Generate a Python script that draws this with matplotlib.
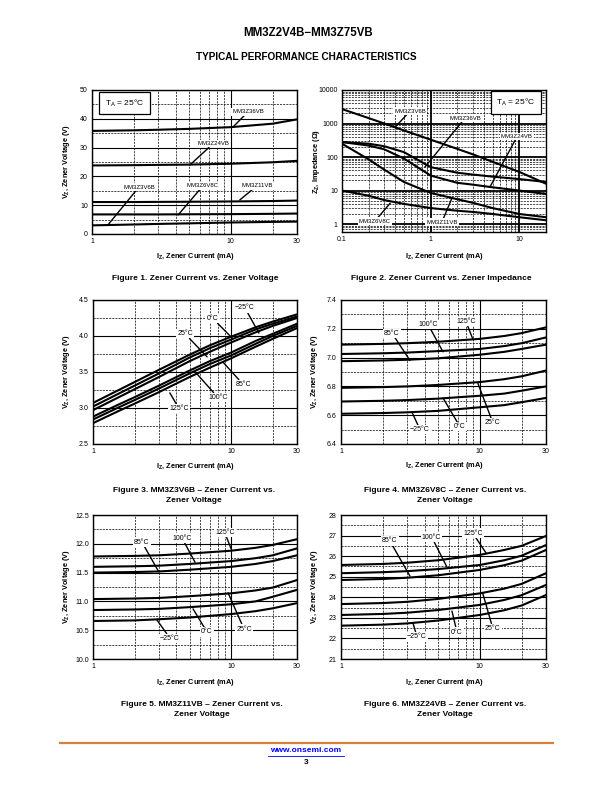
import matplotlib
matplotlib.use('Agg')
import matplotlib.pyplot as plt
from matplotlib.lines import Line2D
from matplotlib.ticker import NullFormatter

plt.rcParams['font.family'] = ['Liberation Sans', 'DejaVu Sans']
plt.rcParams['mathtext.fontset'] = 'custom'
plt.rcParams['mathtext.rm'] = 'Liberation Sans'
plt.rcParams['mathtext.bf'] = 'Liberation Sans:bold'
plt.rcParams['mathtext.it'] = 'Liberation Sans:italic'

# Figura 1: corriente vs tension zener (TA = 25 C)
i_fig1 = [1, 2, 3, 5, 10, 20, 30]
vz_36vb = [35.8, 36.0, 36.2, 36.5, 37.1, 38.3, 39.8]
vz_24vb = [23.8, 23.9, 24.0, 24.1, 24.4, 24.9, 25.4]
vz_11vb = [11.1, 11.1, 11.15, 11.2, 11.3, 11.45, 11.6]
vz_6v8c = [6.8, 6.8, 6.8, 6.85, 6.9, 7.0, 7.1]
vz_3v6b = [3.0, 3.3, 3.5, 3.7, 4.0, 4.2, 4.3]

# Figura 2: impedancia zener
i_fig2 = [0.1, 0.2, 0.3, 0.5, 1, 2, 3, 5, 10, 20]
zz_3v6b = [2700, 1450, 1000, 620, 330, 175, 120, 72, 36, 16]
zz_36vb = [280, 250, 210, 140, 50, 34, 30, 26, 22, 18]
zz_24vb = [280, 220, 170, 90, 28, 17, 15, 12.5, 10, 7.9]
zz_11vb = [250, 85, 42, 18, 8.5, 5.5, 4.3, 3.0, 2.0, 1.6]
zz_6v8c = [10, 7, 5.2, 4.0, 3.0, 2.5, 2.3, 2.0, 1.6, 1.3]

# Figuras 3 a 6: curvas por temperatura
temperaturas = ['-25', '0', '25', '85', '100', '125']
i_fig3 = [1, 1.5, 2, 3, 5, 7, 10, 15, 20, 30]
vz_fig3 = {
    '-25': [3.07, 3.24, 3.36, 3.53, 3.74, 3.87, 3.99, 4.12, 4.20, 4.30],
    '0': [3.02, 3.19, 3.31, 3.48, 3.70, 3.83, 3.95, 4.09, 4.17, 4.27],
    '25': [2.97, 3.14, 3.26, 3.43, 3.65, 3.78, 3.91, 4.05, 4.14, 4.25],
    '85': [2.88, 3.04, 3.15, 3.31, 3.52, 3.65, 3.77, 3.93, 4.03, 4.17],
    '100': [2.84, 3.00, 3.11, 3.27, 3.48, 3.61, 3.73, 3.89, 4.00, 4.14],
    '125': [2.79, 2.95, 3.06, 3.22, 3.43, 3.56, 3.69, 3.85, 3.96, 4.11],
}

i_temp = [1, 2, 3, 5, 10, 15, 20, 30]
vz_fig4 = {
    '-25': [6.61, 6.615, 6.62, 6.63, 6.655, 6.67, 6.69, 6.72],
    '0': [6.695, 6.70, 6.705, 6.715, 6.735, 6.75, 6.77, 6.80],
    '25': [6.79, 6.795, 6.80, 6.81, 6.83, 6.85, 6.87, 6.91],
    '85': [6.975, 6.98, 6.985, 6.995, 7.02, 7.04, 7.06, 7.09],
    '100': [7.025, 7.03, 7.035, 7.045, 7.06, 7.08, 7.10, 7.14],
    '125': [7.09, 7.095, 7.10, 7.11, 7.13, 7.15, 7.17, 7.21],
}
vz_fig5 = {
    '-25': [10.66, 10.67, 10.69, 10.72, 10.78, 10.83, 10.88, 10.97],
    '0': [10.85, 10.86, 10.87, 10.90, 10.95, 11.00, 11.08, 11.20],
    '25': [11.04, 11.05, 11.06, 11.09, 11.14, 11.19, 11.24, 11.37],
    '85': [11.50, 11.51, 11.52, 11.55, 11.60, 11.65, 11.70, 11.80],
    '100': [11.60, 11.61, 11.62, 11.65, 11.70, 11.75, 11.80, 11.92],
    '125': [11.78, 11.79, 11.80, 11.83, 11.88, 11.93, 11.98, 12.08],
}
vz_fig6 = {
    '-25': [22.62, 22.67, 22.73, 22.87, 23.14, 23.37, 23.60, 24.11],
    '0': [23.14, 23.19, 23.25, 23.38, 23.63, 23.87, 24.10, 24.60],
    '25': [23.67, 23.72, 23.78, 23.92, 24.19, 24.42, 24.65, 25.17],
    '85': [24.84, 24.89, 24.95, 25.07, 25.33, 25.56, 25.78, 26.30],
    '100': [25.17, 25.22, 25.27, 25.37, 25.57, 25.80, 26.02, 26.54],
    '125': [25.57, 25.62, 25.68, 25.80, 26.06, 26.30, 26.50, 26.98],
}

W, H = 612, 792
fig = plt.figure(figsize=(W / 100, H / 100), dpi=100)


def caja(x0, y0, x1, y1):
    return [x0 / W, 1 - y1 / H, (x1 - x0) / W, (y1 - y0) / H]


def texto(x, y, s, **kw):
    fig.text(x / W, 1 - y / H, s, ha='center', va='center', **kw)


def preparar(ax, ylim, yticks, ylabels, ymenor):
    ax.set_xscale('log')
    ax.set_xlim(1, 30)
    ax.set_xticks([1, 10, 30])
    ax.set_xticklabels(['1', '10', '30'])
    ax.set_xticks([2, 3, 4, 5, 6, 7, 8, 9, 20], minor=True)
    ax.xaxis.set_minor_formatter(NullFormatter())
    ax.set_ylim(*ylim)
    ax.set_yticks(yticks)
    ax.set_yticklabels(ylabels)
    ax.set_yticks(ymenor, minor=True)
    estilo(ax)


def estilo(ax):
    ax.grid(which='major', color='black', lw=0.8)
    ax.grid(which='minor', color='black', lw=0.5, ls=(0, (3, 1.5)))
    ax.set_axisbelow(True)
    ax.tick_params(which='both', length=0, labelsize=5, pad=3)
    for s in ax.spines.values():
        s.set_linewidth(1.0)


def etiqueta(ax, s, xy, xytext, size=5):
    ax.annotate(s, xy=xy, xytext=xytext, fontsize=size, ha='center', va='center',
                zorder=10, annotation_clip=False,
                bbox=dict(fc='white', ec='none', pad=0.8),
                arrowprops=dict(arrowstyle='-', lw=1.0, color='black',
                                shrinkA=0, shrinkB=0))


def ta_box(ax, x, y):
    ax.text(x, y, r'T$_\mathrm{A}$ = 25°C', transform=ax.transAxes, fontsize=6,
            ha='center', va='center', zorder=10,
            bbox=dict(fc='white', ec='black', lw=0.9, boxstyle='square,pad=0.7'))


curva = dict(color='black', lw=1.5, zorder=5)

# ---- Figura 1
ax1 = fig.add_axes(caja(92, 90, 297, 234))
preparar(ax1, (0, 50), [0, 10, 20, 30, 40, 50], ['0', '10', '20', '30', '40', '50'],
         [5, 15, 25, 35, 45])
for v in [vz_36vb, vz_24vb, vz_11vb, vz_6v8c, vz_3v6b]:
    ax1.plot(i_fig1, v, **curva)
etiqueta(ax1, 'MM3Z36VB', (10.4, 37.2), (13.3, 42.4), 4.3)
etiqueta(ax1, 'MM3Z24VB', (5.08, 24.0), (7.44, 31.3), 4.3)
etiqueta(ax1, 'MM3Z3V6B', (1.30, 3.1), (2.18, 16.3), 4.3)
etiqueta(ax1, 'MM3Z6V8C', (4.17, 6.6), (6.3, 16.7), 4.3)
etiqueta(ax1, 'MM3Z11VB', (11.6, 11.8), (15.4, 16.7), 4.3)
ta_box(ax1, 0.158, 0.91)

# ---- Figura 2
ax2 = fig.add_axes(caja(342, 90, 546, 232))
ax2.set_xscale('log')
ax2.set_yscale('log')
ax2.set_xlim(0.1, 20)
ax2.set_ylim(0.58, 10000)
ax2.set_xticks([0.1, 1, 10])
ax2.set_xticklabels(['0.1', '1', '10'])
ax2.set_xticks([k * d for d in (0.1, 1, 10) for k in range(2, 10) if k * d < 20],
               minor=True)
ax2.xaxis.set_minor_formatter(NullFormatter())
ax2.set_yticks([1, 10, 100, 1000, 10000])
ax2.set_yticklabels(['1', '10', '100', '1000', '10000'])
ax2.set_yticks([k * d for d in (0.1, 1, 10, 100, 1000) for k in range(2, 10)
                if 0.58 < k * d < 10000], minor=True)
ax2.yaxis.set_minor_formatter(NullFormatter())
estilo(ax2)
ax2.grid(which='major', color='black', lw=1.3)
for z in [zz_3v6b, zz_36vb, zz_24vb, zz_11vb, zz_6v8c]:
    ax2.plot(i_fig2, z, **curva)
etiqueta(ax2, 'MM3Z3V6B', (0.40, 790), (0.585, 2350), 4.3)
etiqueta(ax2, 'MM3Z36VB', (0.86, 50), (2.44, 1450), 4.3)
etiqueta(ax2, 'MM3Z24VB', (4.66, 12.7), (9.4, 400), 4.3)
etiqueta(ax2, 'MM3Z6V8C', (0.35, 4.2), (0.235, 1.23), 4.3)
etiqueta(ax2, 'MM3Z11VB', (1.74, 6.0), (1.34, 1.15), 4.3)
ta_box(ax2, 0.853, 0.912)

# ---- Figuras 3 a 6
ax3 = fig.add_axes(caja(93, 300, 297, 444))
preparar(ax3, (2.5, 4.5), [2.5, 3.0, 3.5, 4.0, 4.5],
         ['2.5', '3.0', '3.5', '4.0', '4.5'], [2.75, 3.25, 3.75, 4.25])
for t in temperaturas:
    ax3.plot(i_fig3, vz_fig3[t], **curva)
etiqueta(ax3, '\u221225°C', (15.9, 4.04), (12.6, 4.39))
etiqueta(ax3, '0°C', (10.2, 3.97), (7.4, 4.24))
etiqueta(ax3, '25°C', (6.7, 3.71), (4.64, 4.03))
etiqueta(ax3, '85°C', (8.7, 3.64), (12.2, 3.33))
etiqueta(ax3, '100°C', (5.5, 3.50), (8.0, 3.15))
etiqueta(ax3, '125°C', (3.6, 3.21), (4.2, 2.99))

ax4 = fig.add_axes(caja(341, 300, 546, 444))
preparar(ax4, (6.4, 7.4), [6.4, 6.6, 6.8, 7.0, 7.2, 7.4],
         ['6.4', '6.6', '6.8', '7.0', '7.2', '7.4'], [6.5, 6.7, 6.9, 7.1, 7.3])
for t in temperaturas:
    ax4.plot(i_temp, vz_fig4[t], **curva)
etiqueta(ax4, '85°C', (3.14, 6.98), (2.33, 7.17))
etiqueta(ax4, '100°C', (5.43, 7.04), (4.24, 7.23))
etiqueta(ax4, '125°C', (8.9, 7.13), (7.95, 7.25))
etiqueta(ax4, '\u221225°C', (3.25, 6.62), (3.71, 6.50))
etiqueta(ax4, '0°C', (5.43, 6.72), (7.2, 6.52))
etiqueta(ax4, '25°C', (9.7, 6.82), (12.4, 6.55))

ax5 = fig.add_axes(caja(93, 515, 297, 659))
preparar(ax5, (10.0, 12.5), [10.0, 10.5, 11.0, 11.5, 12.0, 12.5],
         ['10.0', '10.5', '11.0', '11.5', '12.0', '12.5'],
         [10.25, 10.75, 11.25, 11.75, 12.25])
for t in temperaturas:
    ax5.plot(i_temp, vz_fig5[t], **curva)
etiqueta(ax5, '85°C', (3.0, 11.51), (2.26, 12.03))
etiqueta(ax5, '100°C', (5.48, 11.68), (4.41, 12.10))
etiqueta(ax5, '125°C', (10.1, 11.89), (9.0, 12.19))
etiqueta(ax5, '\u221225°C', (2.9, 10.68), (3.61, 10.36))
etiqueta(ax5, '0°C', (5.3, 10.87), (6.69, 10.47))
etiqueta(ax5, '25°C', (9.5, 11.15), (12.4, 10.52))

ax6 = fig.add_axes(caja(341, 515, 546, 659))
preparar(ax6, (21, 28), list(range(21, 29)), [str(v) for v in range(21, 29)],
         [21.5, 22.5, 23.5, 24.5, 25.5, 26.5, 27.5])
for t in temperaturas:
    ax6.plot(i_temp, vz_fig6[t], **curva)
etiqueta(ax6, '85°C', (3.14, 25.03), (2.25, 26.74))
etiqueta(ax6, '100°C', (5.8, 25.47), (4.5, 26.93))
etiqueta(ax6, '125°C', (11.1, 26.15), (8.9, 27.12))
etiqueta(ax6, '\u221225°C', (3.3, 22.75), (3.53, 22.07))
etiqueta(ax6, '0°C', (6.3, 23.33), (6.85, 22.31))
etiqueta(ax6, '25°C', (10.5, 24.2), (12.4, 22.5))

# ---- Rotulos de ejes
xl = r'I$_\mathbf{Z}$, Zener Current (mA)'
vl = r'V$_\mathbf{Z}$, Zener Voltage (V)'
for (cx, y) in [(195, 256), (444, 257), (195, 467), (444, 466), (195, 683), (444, 683)]:
    texto(cx, y, xl, fontsize=5.3, fontweight='bold')
for (x, cy) in [(66, 162), (66, 372), (315, 372), (66, 587), (315, 587)]:
    texto(x, cy, vl, fontsize=5.3, fontweight='bold', rotation=90)
texto(316, 161, r'Z$_\mathbf{Z}$, Impedance (Ω)', fontsize=5.3, fontweight='bold',
      rotation=90)

# ---- Titulos y leyendas de figura
texto(308, 33, 'MM3Z2V4B\u2212MM3Z75VB', fontsize=8.3, fontweight='bold')
texto(306, 57, 'TYPICAL PERFORMANCE CHARACTERISTICS', fontsize=7.2, fontweight='bold')
cap = dict(fontsize=6, fontweight='bold')
texto(195, 279, 'Figure 1. Zener Current vs. Zener Voltage', **cap)
texto(441, 279, 'Figure 2. Zener Current vs. Zener Impedance', **cap)
texto(194, 490, 'Figure 3. MM3Z3V6B \u2013 Zener Current vs.', **cap)
texto(194, 501, 'Zener Voltage', **cap)
texto(445, 490, 'Figure 4. MM3Z6V8C \u2013 Zener Current vs.', **cap)
texto(445, 501, 'Zener Voltage', **cap)
texto(202, 704, 'Figure 5. MM3Z11VB \u2013 Zener Current vs.', **cap)
texto(202, 715, 'Zener Voltage', **cap)
texto(445, 704, 'Figure 6. MM3Z24VB \u2013 Zener Current vs.', **cap)
texto(445, 715, 'Zener Voltage', **cap)

# ---- Pie de pagina
fig.add_artist(Line2D([60 / W, 553 / W], [1 - 743 / H] * 2, color='#D8813A', lw=1.6))
texto(306, 751, 'www.onsemi.com', fontsize=6, fontweight='bold', color='#0000FF')
fig.add_artist(Line2D([268 / W, 344 / W], [1 - 756 / H] * 2, color='#0000FF', lw=0.6))
texto(306, 762, '3', fontsize=6, fontweight='bold')

fig.savefig('out.png', dpi=100)
